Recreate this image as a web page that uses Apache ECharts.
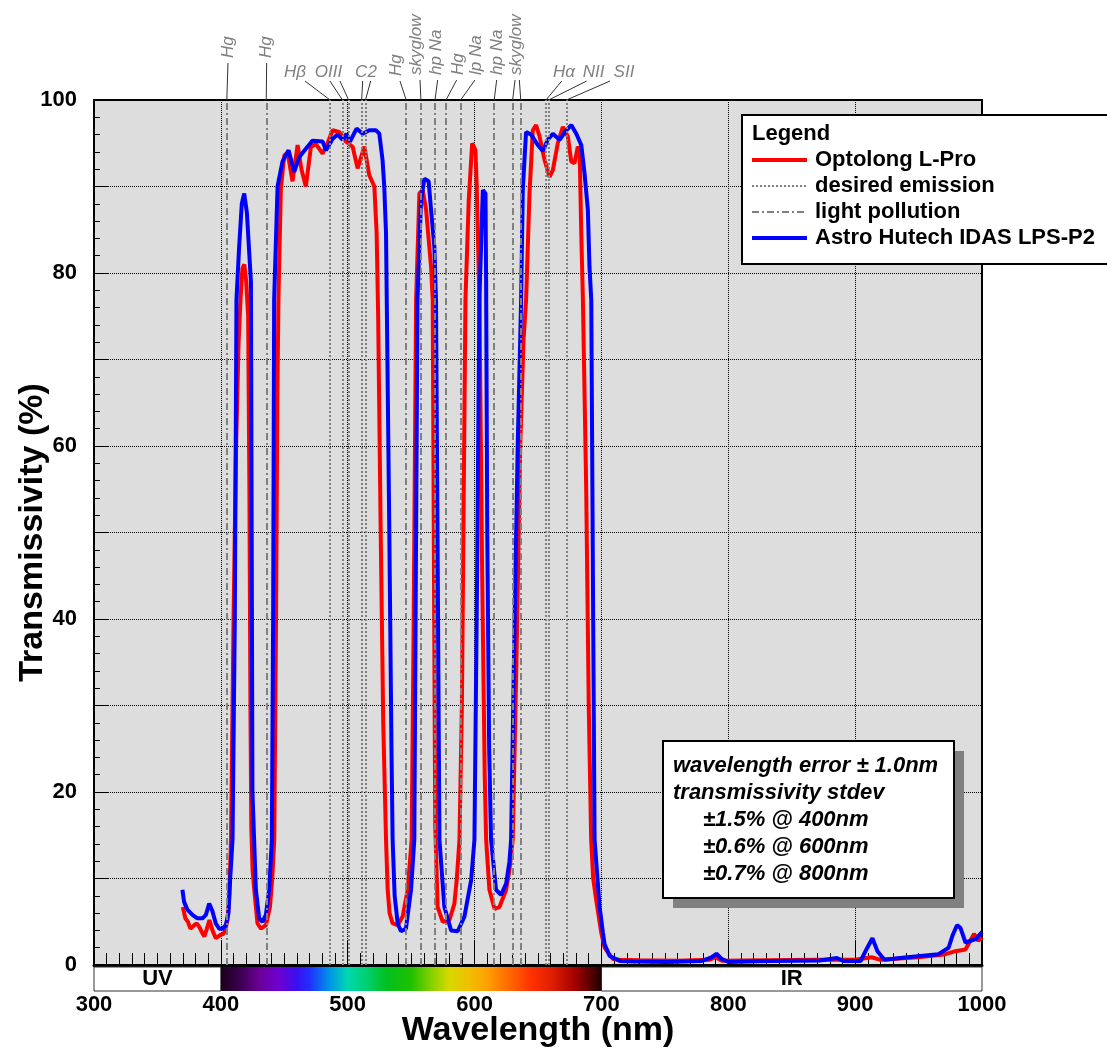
<!DOCTYPE html>
<html>
<head>
<meta charset="utf-8">
<script src="https://cdn.jsdelivr.net/npm/echarts@6/dist/echarts.min.js"></script>
<style>
html,body{margin:0;padding:0;background:#fff;}
#chart{width:1107px;height:1053px;}
</style>
</head>
<body>
<div id="chart"></div>
<script>
// ---------------- data ----------------
const redWl = [370,372,374,376,379,381,383,385,387,389,391,393.4,396,398,400,402,403.4,405.2,406.5,408,410,412,414,415.5,417,418.5,420,421.5,422.5,423.3,424,425,426.3,428.9,431.6,435.5,438.7,440.5,442.1,443.5,444.5,445.4,447.3,450,452.6,456.5,460.5,463.5,467,471,475,480.2,484.1,488,493.3,498.6,503.9,507.8,513.1,517,521,522.8,524,526,528,530.2,531.5,533,535.4,539.4,543.3,547.3,550.4,552,553.9,556.5,559.1,561.8,565.7,567,568,569,570.9,574.9,580.2,584.1,586,588.1,590,592.8,595.4,598.1,600.7,601.7,603.8,606,608,609.1,611.7,615.7,619.6,624.9,627.5,630.1,633,636,638.5,640.6,643.3,645.9,648.5,651.2,655.1,659.1,661.7,665.6,669.6,673.5,676.2,678.8,681.4,682.8,684.1,685.4,688,690,691.9,693.5,695.9,699.9,702.5,706.4,709.2,714.3,730,760,785,790,795,830,870,900,913,920,950,970,979,987,990,993.7,997,1000];
const redT  = [6.7,5.4,5.0,4.2,4.6,4.8,4.4,3.8,3.3,4.2,5.2,4.0,3.1,3.3,3.5,3.6,4.0,5.2,7.5,14.5,40,60,72,77,80.5,81,79,75,55,30,16,11,8.7,4.8,4.2,4.6,6.7,10,14.5,40,65,77,89.8,93.6,93.9,90.6,94.8,92,90,94.6,94.9,93.8,95,96.5,96.3,95.2,94.6,92.1,94.6,91.3,90,84.6,75,50,28,14.5,8.7,6,4.8,4.6,5.6,8.7,14.5,40,76.9,89.2,89.6,87.3,80.7,76.9,45,16,6.7,5,5.2,7.1,10,14.5,30,76.9,88.4,95,94.2,90,76.9,45,22,14.5,8.7,6.5,6.7,8.7,11,14.5,35,60,72,76.9,89.2,96.5,97.1,95.8,93.1,91.1,91.9,95,96.9,95.8,92.9,92.7,94.6,94.2,84.6,76.9,55,30,14.5,10,7.5,3.7,2,1.2,0.7,0.6,0.55,0.5,0.6,0.9,0.5,0.55,0.6,0.6,0.9,0.6,0.9,1.2,1.6,1.8,2.6,3.6,2.8,3.2];

const blueWl = [369.7,371,373.6,377.6,381.5,385.5,388.2,390.8,393.4,396,398.7,401.3,403.9,406,407.3,409.2,411,412.3,414.4,416.5,418.4,420.5,422.5,423.7,424.3,424.9,427.6,430.2,432.8,435.5,438.1,440.2,441.2,442,444.7,448.6,453.4,457.8,461.8,468.3,472.3,480.2,482.9,488,492,496,499,501.8,507,511.8,517,522.3,524.9,527.5,528.8,530.2,532.8,534.5,535.4,537,539.4,542,545.9,549.9,552.5,553.5,555,557.8,560.4,563.8,565.7,568.3,569.6,571,572.3,576.2,581.5,586.7,592,597.3,599.9,602,603.8,606.5,608.6,609.1,610,611.5,613,616.9,620.9,624.9,627.5,628.8,631,634,636.7,638,640.6,644.6,649.8,653.8,657.7,661.7,667,672.3,676.2,680.2,684.1,686.7,689.3,690.6,692,693.5,694.6,698.6,701.2,702.5,706.5,714.5,725,752,778.7,786.7,790.7,794.7,800,832,872,885.6,890.9,904.3,909.6,913.6,917.6,923,939,965.7,973.7,977,980.3,983,987,995,1000];
const blueT  = [8.7,7.3,6.4,5.8,5.4,5.4,5.8,7.1,6.2,4.8,4.2,4.2,4.6,6,9.8,14.5,40,76.9,83,88,89.2,87,82,79,50,20,8.7,5.4,5.0,5.8,8.7,14.5,40,76.9,90,92.9,94.2,91.7,93.4,94.6,95.3,95.2,94.2,95.5,96,95.4,96.1,95.2,96.7,96.1,96.5,96.5,96.1,93,90,84.6,50,25,14.5,8,4.8,3.9,4.2,8.7,14.5,40,76.9,88.4,90.9,90.6,87.3,83,76.9,45,14.5,6.7,4,3.9,5.6,9.8,14.5,45,76.9,89.6,89.2,79,50,25,14.5,8.7,8.1,9.4,12,14.5,35,60,76.9,89.6,96.3,96,94.8,94.1,95.4,96.1,95.4,96.5,97.1,96.1,94.8,91.5,87.3,80.7,76.9,40,14.5,6.7,3.7,2.4,1.05,0.46,0.4,0.35,0.46,0.87,1.3,0.7,0.35,0.46,0.52,0.8,0.46,0.46,2,3.1,1.6,0.6,0.87,1.25,2,3.5,4.6,4.3,2.6,3,3.8];

const desiredLines   = [486.1, 495.9, 500.7, 511, 514, 656.3, 658.4, 672.4];
const pollutionLines = [404.7, 435.8, 546.1, 557.7, 568.8, 577.5, 589.0, 615.5, 630.0, 636.4];

const seriesNames = ['Optolong L-Pro', 'desired emission', 'light pollution', 'Astro Hutech IDAS LPS-P2'];
const xTicks = [300, 400, 500, 600, 700, 800, 900, 1000];
const yTicks = [0, 20, 40, 60, 80, 100];

const noteLines = ['wavelength error \u00b1 1.0nm', 'transmissivity stdev', '\u00b11.5% @ 400nm', '\u00b10.6% @ 600nm', '\u00b10.7% @ 800nm'];

// ---------------- layout of emission-line labels (positions in nm) ----------------
const lineLabels = [
  {t:'Hg', at:405.6, rot:true, base:58, leads:[[405.6,404.7]]},
  {t:'Hg', at:436.1, rot:true, base:58, leads:[[436.1,435.8]]},
  {t:'H\u03b2', at:458.4, rot:false, leads:[[466.3,486.1]]},
  {t:'OIII', at:484.9, rot:false, leads:[[486,495.9],[493.9,500.7]]},
  {t:'C2', at:514.4, rot:false, leads:[[511.8,511],[518.1,514]]},
  {t:'Hg', at:538.1, rot:true, base:76, leads:[[541.2,546.1]]},
  {t:'skyglow', at:554.2, rot:true, base:75, leads:[[557,557.7]]},
  {t:'hp Na', at:570, rot:true, base:75, leads:[[570.9,568.8]]},
  {t:'Hg', at:587.3, rot:true, base:75, leads:[[585.9,577.5]]},
  {t:'lp Na', at:601.5, rot:true, base:75, leads:[[600.3,589.0]]},
  {t:'hp Na', at:618.1, rot:true, base:75, leads:[[617.4,615.5]]},
  {t:'skyglow', at:633, rot:true, base:75, leads:[[631.9,630.0],[635.3,636.4]]},
  {t:'H\u03b1', at:670.5, rot:false, leads:[[668.7,656.3]]},
  {t:'NII', at:693.8, rot:false, leads:[[688.4,658.4]]},
  {t:'SII', at:717.8, rot:false, leads:[[706.8,672.4]]}
];

const spectrumStops = [
  [400,'#1a0018'],[415,'#3a0050'],[430,'#6a0095'],[445,'#7000d0'],[460,'#3a10f0'],[470,'#2030ff'],
  [485,'#0090e8'],[500,'#00d8b0'],[515,'#00d070'],[530,'#00c020'],[550,'#20c000'],[565,'#80d000'],
  [580,'#d8d800'],[595,'#f0c000'],[610,'#ffa000'],[630,'#ff6000'],[645,'#ff3000'],[660,'#e02000'],
  [680,'#a00000'],[700,'#200000']
];

// ---------------- chart ----------------
const FF = '"Liberation Sans", Arial, sans-serif';
const chart = echarts.init(document.getElementById('chart'), null, {renderer:'canvas'});
const pair = (xs, ys) => xs.map((x, i) => [x, ys[i]]);
const dottedDash = [2, 2];
const dashDotDash = [7, 3, 2, 3];

const option = {
  backgroundColor: '#ffffff',
  animation: false,
  grid: {left: 94, top: 100, width: 888, height: 865, containLabel: false, outerBoundsMode: 'none',
    show: true, backgroundColor: '#dddddd', borderColor: '#000', borderWidth: 2},
  xAxis: {
    type: 'value', min: 300, max: 1000, interval: 100,
    name: 'Wavelength (nm)', nameLocation: 'middle', nameGap: 49, nameMoveOverlap: false,
    nameTextStyle: {fontSize: 34, fontWeight: 'bold', color: '#000', fontFamily: FF},
    axisLine: {show: true, lineStyle: {color: '#000', width: 3}},
    axisTick: {show: true, inside: true, length: 25, lineStyle: {color: '#000', width: 1}},
    minorTick: {show: true, splitNumber: 10, length: 12, lineStyle: {color: '#000', width: 1}},
    splitLine: {show: true, lineStyle: {color: '#000', type: 'dotted', width: 1}},
    axisLabel: {margin: 29, fontSize: 22, fontWeight: 'bold', color: '#000', fontFamily: FF,
      formatter: v => xTicks.indexOf(v) >= 0 ? String(v) : ''}
  },
  yAxis: {
    type: 'value', min: 0, max: 100, interval: 10,
    name: 'Transmissivity (%)', nameLocation: 'middle', nameGap: 44, nameRotate: 90, nameMoveOverlap: false,
    nameTextStyle: {fontSize: 34, fontWeight: 'bold', color: '#000', fontFamily: FF},
    axisLine: {show: true, lineStyle: {color: '#000', width: 2}},
    axisTick: {show: true, inside: true, length: 15, lineStyle: {color: '#000', width: 1}},
    minorTick: {show: true, splitNumber: 5, length: 6, lineStyle: {color: '#000', width: 1}},
    splitLine: {show: true, lineStyle: {color: '#000', type: 'dotted', width: 1}},
    axisLabel: {margin: 17, fontSize: 22, fontWeight: 'bold', color: '#000', fontFamily: FF,
      formatter: v => yTicks.indexOf(v) >= 0 ? String(v) : ''}
  },
  legend: {
    data: [
      {name: seriesNames[0], lineStyle: {width: 4}},
      {name: seriesNames[1], lineStyle: {width: 2}},
      {name: seriesNames[2], lineStyle: {width: 2}},
      {name: seriesNames[3], lineStyle: {width: 4}}
    ],
    orient: 'vertical', left: 750, top: 149, padding: 0,
    itemWidth: 55, itemHeight: 14, itemGap: 4, selectedMode: false, z: 10,
    itemStyle: {opacity: 0},
    textStyle: {fontSize: 22, fontWeight: 'bold', color: '#000', fontFamily: FF, padding: [0, 0, 0, 3]}
  },
  series: [
    {name: seriesNames[0], type: 'line', data: pair(redWl, redT), symbol: 'none', z: 3,
      lineStyle: {color: '#ff0000', width: 4}, itemStyle: {color: '#ff0000'}},
    {name: seriesNames[1], type: 'line', data: [], symbol: 'none', z: 1,
      lineStyle: {color: '#808080', width: 2, type: dottedDash}, itemStyle: {color: '#808080'},
      markLine: {silent: true, symbol: ['none','none'], label: {show: false},
        lineStyle: {color: '#808080', width: 2, type: dottedDash},
        data: desiredLines.map(v => ({xAxis: v}))}},
    {name: seriesNames[2], type: 'line', data: [], symbol: 'none', z: 1,
      lineStyle: {color: '#808080', width: 2, type: dashDotDash}, itemStyle: {color: '#808080'},
      markLine: {silent: true, symbol: ['none','none'], label: {show: false},
        lineStyle: {color: '#808080', width: 2, type: dashDotDash},
        data: pollutionLines.map(v => ({xAxis: v}))}},
    {name: seriesNames[3], type: 'line', data: pair(blueWl, blueT), symbol: 'none', z: 4,
      lineStyle: {color: '#0000ff', width: 4}, itemStyle: {color: '#0000ff'}}
  ]
};
chart.setOption(option);

// ---------------- graphics computed from the axes ----------------
function px(nm) { return chart.convertToPixel({xAxisIndex: 0}, nm); }
function py(v) { return chart.convertToPixel({yAxisIndex: 0}, v); }

const gfx = [];
const plotTop = py(100), plotBottom = py(0);

// emission labels + leaders
lineLabels.forEach(L => {
  const lx = px(L.at);
  if (L.rot) {
    gfx.push({type: 'text', z: 5, x: lx, y: L.base, rotation: Math.PI / 2,
      style: {text: L.t, fill: '#808080', font: 'italic 17px ' + FF, align: 'left', verticalAlign: 'middle'}});
  } else {
    gfx.push({type: 'text', z: 5, x: lx, y: 72,
      style: {text: L.t, fill: '#808080', font: 'italic 17px ' + FF, align: 'center', verticalAlign: 'middle'}});
  }
  L.leads.forEach(([fromNm, toNm]) => {
    const y0 = L.rot ? L.base + 5 : 81;
    gfx.push({type: 'line', z: 5, shape: {x1: px(fromNm), y1: y0, x2: px(toNm), y2: plotTop},
      style: {stroke: '#333', lineWidth: 1}});
  });
});

// colour bar below the axis
const barTop = plotBottom + 2, barH = 24;
const x300 = px(300), x400 = px(400), x700 = px(700), x1000 = px(1000);
gfx.push({type: 'rect', z: 5, shape: {x: x300, y: barTop, width: x400 - x300, height: barH},
  style: {fill: '#fff', stroke: '#333', lineWidth: 1}});
gfx.push({type: 'rect', z: 5, shape: {x: x700, y: barTop, width: x1000 - x700, height: barH},
  style: {fill: '#fff', stroke: '#333', lineWidth: 1}});
gfx.push({type: 'rect', z: 5, shape: {x: x400, y: barTop, width: x700 - x400, height: barH},
  style: {fill: new echarts.graphic.LinearGradient(0, 0, 1, 0,
    spectrumStops.map(([nm, c]) => ({offset: (nm - 400) / 300, color: c})))}});
gfx.push({type: 'text', z: 6, x: px(350), y: barTop + barH / 2,
  style: {text: 'UV', fill: '#000', font: 'bold 22px ' + FF, align: 'center', verticalAlign: 'middle'}});
gfx.push({type: 'text', z: 6, x: px(850), y: barTop + barH / 2,
  style: {text: 'IR', fill: '#000', font: 'bold 22px ' + FF, align: 'center', verticalAlign: 'middle'}});

// legend box
gfx.push({type: 'rect', z: 3, shape: {x: 742, y: 115, width: 420, height: 149},
  style: {fill: '#fff', stroke: '#000', lineWidth: 2}});
gfx.push({type: 'text', z: 6, x: 752, y: 134,
  style: {text: 'Legend', fill: '#000', font: 'bold 22px ' + FF, align: 'left', verticalAlign: 'middle'}});

// note box
gfx.push({type: 'rect', z: 3, shape: {x: 673, y: 751, width: 291, height: 157}, style: {fill: '#808080'}});
gfx.push({type: 'rect', z: 3, shape: {x: 663, y: 741, width: 291, height: 157},
  style: {fill: '#fff', stroke: '#000', lineWidth: 2}});
noteLines.forEach((t, i) => {
  gfx.push({type: 'text', z: 6, x: i < 2 ? 673 : 703, y: 766 + i * 27,
    style: {text: t, fill: '#000', font: 'italic bold 22px ' + FF, align: 'left', verticalAlign: 'middle'}});
});

chart.setOption({graphic: gfx});
</script>
</body>
</html>
